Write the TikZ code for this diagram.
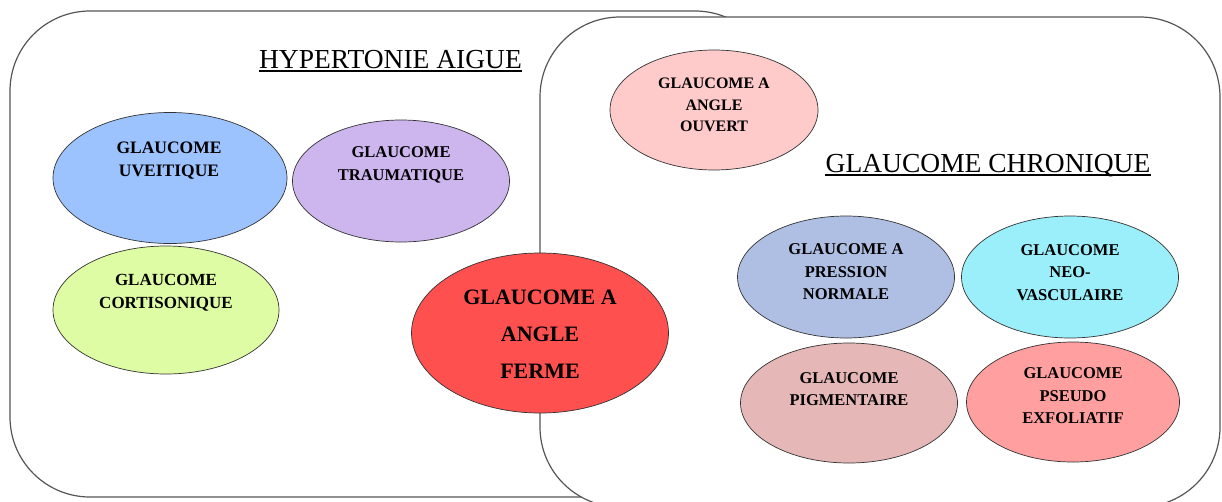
\documentclass[tikz,border=0pt]{standalone}
\usepackage{fontspec}
\setmainfont{Liberation Serif}
\usetikzlibrary{shapes.geometric}

\definecolor{frameline}{HTML}{555555}
\definecolor{cUve}{HTML}{9DC3FF}
\definecolor{cTrau}{HTML}{CDB5EE}
\definecolor{cCort}{HTML}{DDFCA4}
\definecolor{cFerme}{HTML}{FF5050}
\definecolor{cOuv}{HTML}{FFCACA}
\definecolor{cPress}{HTML}{AFBFE4}
\definecolor{cNeo}{HTML}{9BEFFB}
\definecolor{cPigm}{HTML}{E5B8B7}
\definecolor{cPseudo}{HTML}{FF9F9F}

\tikzset{
  groupbox/.style={draw=frameline, line width=1.2pt, fill=white, rounded corners=80pt},
  ell/.style={ellipse, draw=black!80, line width=0.7pt, inner sep=0pt},
  etxt/.style={align=center, inner sep=0pt, font=\bfseries\fontsize{16.5}{22.5}\selectfont},
  bigtxt/.style={align=center, inner sep=0pt, font=\bfseries\fontsize{22}{37}\selectfont},
  titletxt/.style={inner sep=0pt, font=\fontsize{27.5}{30}\selectfont},
  ulrule/.style={line width=1.6pt}
}

\begin{document}
\begin{tikzpicture}[x=1pt,y=-1pt]
  \useasboundingbox (0,0) rectangle (1222,501);

  % the two overlapping groups
  \begin{scope}
    \clip (0,0) rectangle (1222,501);
    \draw[groupbox] (10,11) rectangle (775,497);
    \draw[groupbox] (540,17) rectangle (1220,507);
  \end{scope}

  % group titles, underlined
  \node[titletxt, anchor=base] (tAigue) at (390.5,68) {HYPERTONIE AIGUE};
  \draw[ulrule] ([yshift=-3pt]tAigue.base west) -- ([yshift=-3pt]tAigue.base east);
  \node[titletxt, anchor=base] (tChron) at (988,172) {GLAUCOME CHRONIQUE};
  \draw[ulrule] ([yshift=-3pt]tChron.base west) -- ([yshift=-3pt]tChron.base east);

  % acute group
  \node[ell, fill=cUve, minimum width=234pt, minimum height=131pt] (uve) at (170,178) {};
  \node[etxt, font=\bfseries\fontsize{17.5}{23}\selectfont] (uveT) at (169,161) {GLAUCOME\\UVEITIQUE};

  \node[ell, fill=cTrau, minimum width=217pt, minimum height=122pt] (trau) at (401,181) {};
  \node[etxt] (trauT) at (401,165) {GLAUCOME\\TRAUMATIQUE};

  \node[ell, fill=cCort, minimum width=226pt, minimum height=128pt] (cort) at (166,310) {};
  \node[etxt, font=\bfseries\fontsize{17}{23}\selectfont] (cortT) at (166,293) {GLAUCOME\\CORTISONIQUE};

  % chronic group
  \node[ell, fill=cOuv, minimum width=208pt, minimum height=120pt] (ouv) at (714,110) {};
  \node[etxt, font=\bfseries\fontsize{16}{21.5}\selectfont] (ouvT) at (714,105) {GLAUCOME A\\ANGLE\\OUVERT};

  \node[ell, fill=cPress, minimum width=217pt, minimum height=122pt] (press) at (846,277) {};
  \node[etxt] (pressT) at (846,272) {GLAUCOME A\\PRESSION\\NORMALE};

  \node[ell, fill=cNeo, minimum width=217pt, minimum height=122pt] (neo) at (1070,277) {};
  \node[etxt] (neoT) at (1070,272.5) {GLAUCOME\\NEO-\\VASCULAIRE};

  \node[ell, fill=cPigm, minimum width=217pt, minimum height=120pt] (pigm) at (849,403) {};
  \node[etxt] (pigmT) at (849,389) {GLAUCOME\\PIGMENTAIRE};

  \node[ell, fill=cPseudo, minimum width=213pt, minimum height=120pt] (pseudo) at (1073,402) {};
  \node[etxt] (pseudoT) at (1073,396) {GLAUCOME\\PSEUDO\\EXFOLIATIF};

  % shared by both groups
  \node[ell, fill=cFerme, minimum width=257pt, minimum height=160pt] (ferme) at (540,333) {};
  \node[bigtxt] (fermeT) at (540,334) {GLAUCOME A\\ANGLE\\FERME};
\end{tikzpicture}
\end{document}
